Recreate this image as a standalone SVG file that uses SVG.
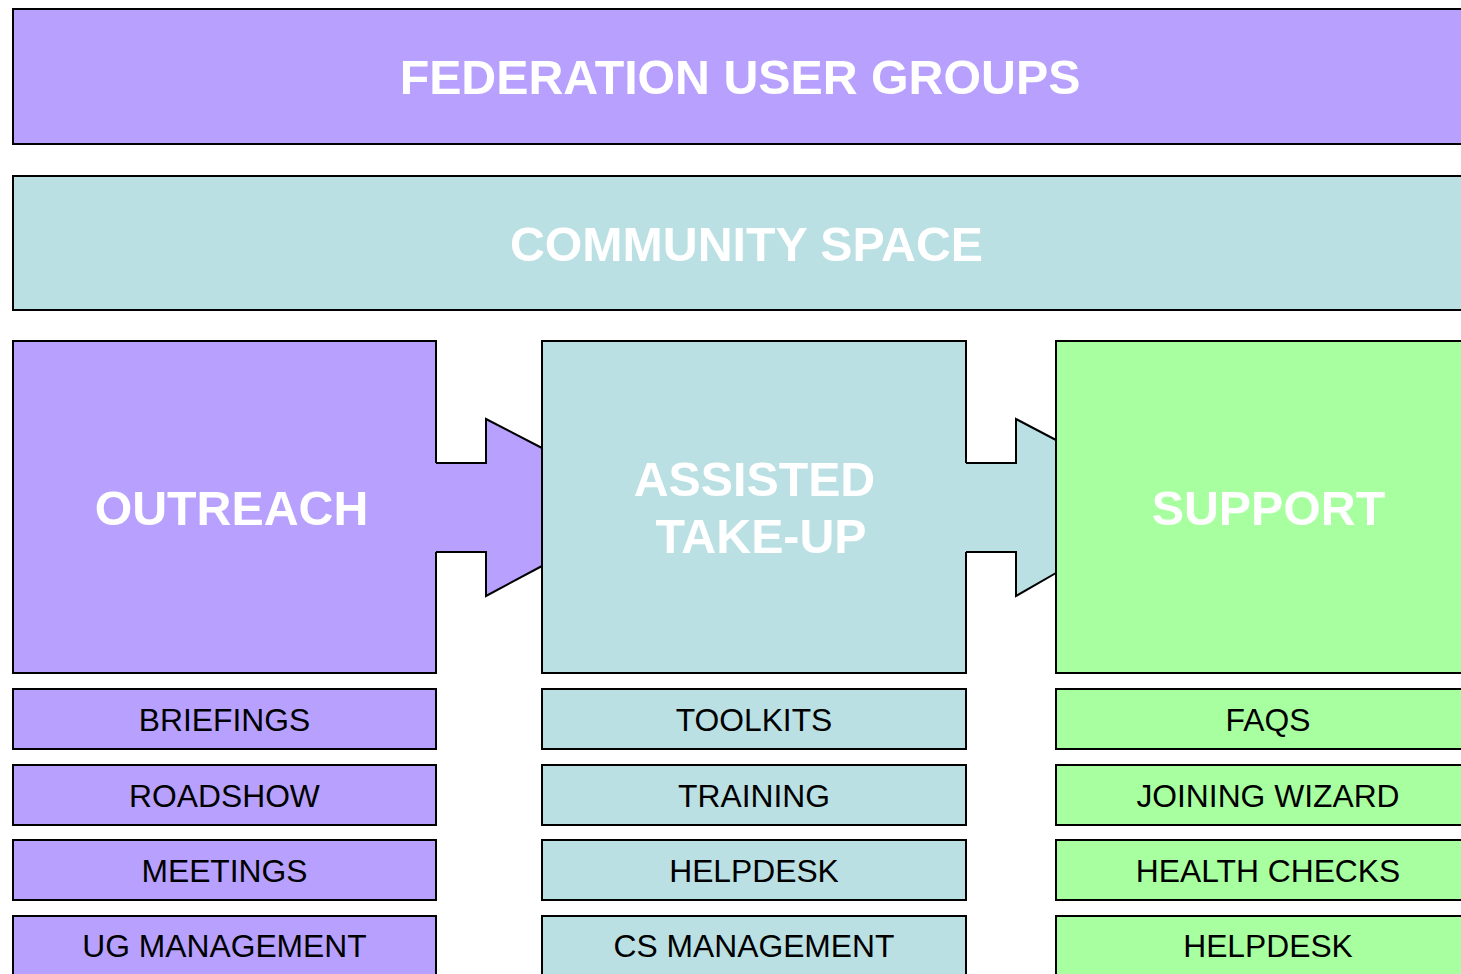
<svg xmlns="http://www.w3.org/2000/svg" width="1461" height="974" viewBox="0 0 1461 974">
<style>
.b{stroke:#000;stroke-width:2}
.p{fill:#B8A0FF}
.t{fill:#BAE0E3}
.g{fill:#A8FFA0}
.big{font-family:"Liberation Sans",Arial,sans-serif;font-weight:bold;font-size:48.3px;fill:#fff;text-anchor:middle}
.sm{font-family:"Liberation Sans",Arial,sans-serif;font-size:31.8px;fill:#000;text-anchor:middle}
.ln{fill:none;stroke:#000;stroke-width:2;stroke-linejoin:miter}
</style>
<rect width="1461" height="974" fill="#fff"/>
<g id="federation-user-groups">
<rect class="b p" x="13" y="9" width="1467" height="135"/>
<text class="big" x="740" y="94">FEDERATION USER GROUPS</text>
</g>
<g id="community-space">
<rect class="b t" x="13" y="176" width="1467" height="134"/>
<text class="big" x="746.5" y="261">COMMUNITY SPACE</text>
</g>
<g id="outreach">
<rect class="b p" x="13" y="341" width="423" height="332"/>
<text class="big" x="231.5" y="525">OUTREACH</text>
</g>
<g id="assisted-take-up">
<rect class="b t" x="542" y="341" width="424" height="332"/>
<text class="big" x="754.5" y="496">ASSISTED</text>
<text class="big" x="761" y="553">TAKE-UP</text>
</g>
<g id="support">
<rect class="b g" x="1056" y="341" width="424" height="332"/>
<text class="big" x="1268.5" y="525">SUPPORT</text>
</g>
<g id="connectors">
<polygon class="p" points="430,463 486,463 486,419 541,448 541,566 486,596 486,552 430,552"/>
<polyline class="ln" points="436,463 486,463 486,419 542,448"/>
<polyline class="ln" points="436,552 486,552 486,596 542,566"/>
<polygon class="t" points="960,463 1016,463 1016,419 1055,440 1055,573 1016,596 1016,552 960,552"/>
<polyline class="ln" points="966,463 1016,463 1016,419 1056,440"/>
<polyline class="ln" points="966,552 1016,552 1016,596 1056,573"/>
</g>
<g id="briefings"><rect class="b p" x="13" y="689" width="423" height="60"/><text class="sm" x="224.5" y="731">BRIEFINGS</text></g>
<g id="roadshow"><rect class="b p" x="13" y="765" width="423" height="60"/><text class="sm" x="224.5" y="807">ROADSHOW</text></g>
<g id="meetings"><rect class="b p" x="13" y="840" width="423" height="60"/><text class="sm" x="224.5" y="882">MEETINGS</text></g>
<g id="ug-management"><rect class="b p" x="13" y="916" width="423" height="70"/><text class="sm" x="224.5" y="957">UG MANAGEMENT</text></g>
<g id="toolkits"><rect class="b t" x="542" y="689" width="424" height="60"/><text class="sm" x="754" y="731">TOOLKITS</text></g>
<g id="training"><rect class="b t" x="542" y="765" width="424" height="60"/><text class="sm" x="754" y="807">TRAINING</text></g>
<g id="helpdesk-cs"><rect class="b t" x="542" y="840" width="424" height="60"/><text class="sm" x="754" y="882">HELPDESK</text></g>
<g id="cs-management"><rect class="b t" x="542" y="916" width="424" height="70"/><text class="sm" x="754" y="957">CS MANAGEMENT</text></g>
<g id="faqs"><rect class="b g" x="1056" y="689" width="424" height="60"/><text class="sm" x="1268" y="731">FAQS</text></g>
<g id="joining-wizard"><rect class="b g" x="1056" y="765" width="424" height="60"/><text class="sm" x="1268" y="807">JOINING WIZARD</text></g>
<g id="health-checks"><rect class="b g" x="1056" y="840" width="424" height="60"/><text class="sm" x="1268" y="882">HEALTH CHECKS</text></g>
<g id="helpdesk-support"><rect class="b g" x="1056" y="916" width="424" height="70"/><text class="sm" x="1268" y="957">HELPDESK</text></g>
</svg>
